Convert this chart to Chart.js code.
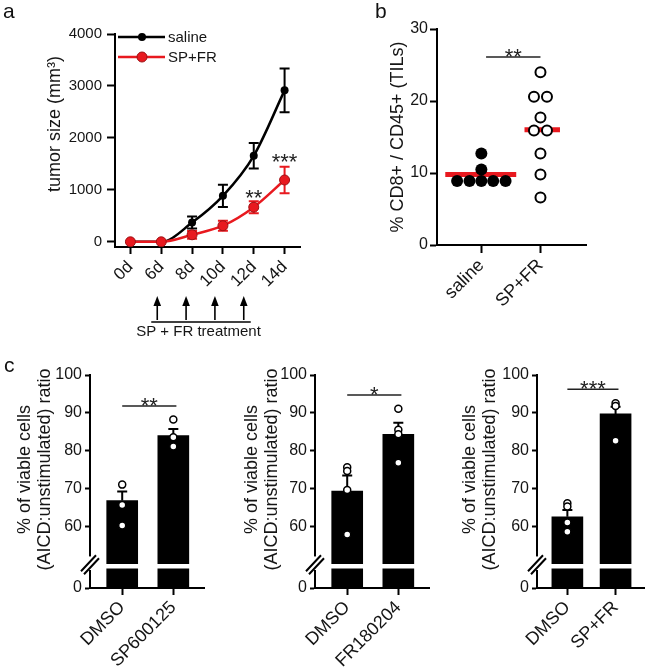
<!DOCTYPE html>
<html>
<head>
<meta charset="utf-8">
<script src="https://cdn.jsdelivr.net/npm/chart.js@4.4.1/dist/chart.umd.min.js"></script>
<style>
  html, body { margin:0; padding:0; background:#fff; }
  #fig { position:relative; width:650px; height:668px; overflow:hidden; background:#fff; }
  #fig canvas { position:absolute; }
</style>
</head>
<body>
<div id="fig">
  <canvas id="chartA" width="310" height="345" style="left:0;top:0"></canvas>
  <canvas id="chartB" width="320" height="330" style="left:330px;top:0"></canvas>
  <canvas id="chartC1" width="215" height="323" style="left:0;top:345px"></canvas>
  <canvas id="chartC2" width="220" height="323" style="left:215px;top:345px"></canvas>
  <canvas id="chartC3" width="215" height="323" style="left:435px;top:345px"></canvas>
</div>
<script>
// ---------------- data ----------------
const days = ['0d', '6d', '8d', '10d', '12d', '14d'];
const salineTumor = [0, 0, 370, 885, 1655, 2915];
const salineTumorSem = [0, 0, 115, 215, 245, 420];
const spfrTumor = [0, 0, 135, 310, 667, 1190];
const spfrTumorSem = [0, 0, 75, 95, 115, 255];
const tumorTicks = [0, 1000, 2000, 3000, 4000];
const treatmentDays = ['6d', '8d', '10d', '12d'];
const tumorSigDays = ['12d', '14d'];
const tumorSigText = ['**', '***'];
const tumorSigY = [950, 1640];

const tilGroups = ['saline', 'SP+FR'];
const tilSaline = [8.9, 8.9, 8.9, 8.9, 8.9, 10.5, 12.7];
const tilSalineSpread = [-0.41, -0.2, 0, 0.2, 0.41, 0, 0];
const tilSpfr = [24.0, 20.6, 20.6, 17.7, 15.9, 15.9, 12.7, 9.8, 6.6];
const tilSpfrSpread = [0, -0.11, 0.11, 0, -0.11, 0.11, 0, 0, 0];
const tilMedian = [9.8, 16.0];
const tilTicks = [0, 10, 20, 30];
const tilSigText = '**';
const tilSigY = 26.1;

const aicdTicks = [60, 70, 80, 90, 100];
const aicdLowTicks = [0];
const aicdTitle = ['% of viable cells', '(AICD:unstimulated) ratio'];

const c1Groups = ['DMSO', 'SP600125'];
const c1Mean = [66.8, 84.0];
const c1Sem = [2.4, 1.7];
const c1DmsoPts = [71.0, 65.6, 60.2];
const c1TreatPts = [88.2, 83.5, 81.1];
const c1Sig = '**';
const c1SigY = 91.8;

const c2Groups = ['DMSO', 'FR180204'];
const c2Mean = [69.3, 84.3];
const c2Sem = [4.1, 3.1];
const c2DmsoPts = [75.6, 74.6, 69.6, 57.8];
const c2TreatPts = [91.1, 85.5, 84.3, 76.8];
const c2Sig = '*';
const c2SigY = 94.7;

const c3Groups = ['DMSO', 'SP+FR'];
const c3Mean = [62.5, 89.7];
const c3Sem = [1.8, 1.9];
const c3DmsoPts = [66.1, 65.2, 61.0, 58.5];
const c3TreatPts = [92.5, 91.8, 82.6];
const c3Sig = '***';
const c3SigY = 96.2;

// ---------------- style ----------------
const FONT = "'Liberation Sans', Arial, Helvetica, sans-serif";
const TXT = '#151515';
const RED = '#e8191f';
const RED_DARK = '#9e1014';
Chart.defaults.font.family = FONT;
Chart.defaults.color = TXT;
Chart.defaults.animation = false;

const axisLine = { display: true, color: '#000', width: 2 };
const plainNum = v => String(v);
function gridTicks(len) {
  return { display: true, drawOnChartArea: false, drawTicks: true, tickLength: len,
           tickWidth: 2, tickColor: '#000', color: '#000', offset: false };
}
function drawStars(ctx, text, x, yc, size) {
  ctx.save();
  ctx.fillStyle = '#222';
  ctx.font = size + 'px ' + FONT;
  ctx.textAlign = 'center';
  ctx.textBaseline = 'alphabetic';
  ctx.fillText(text, x, yc + 0.57 * size);
  ctx.restore();
}
function drawLetter(ctx, t, x, y) {
  ctx.save();
  ctx.fillStyle = '#111';
  ctx.font = '21px ' + FONT;
  ctx.textAlign = 'left';
  ctx.textBaseline = 'alphabetic';
  ctx.fillText(t, x, y);
  ctx.restore();
}

// ---------------- panel a ----------------
const tumorExtras = {
  id: 'tumorExtras',
  beforeDatasetDraw(chart, args) {
    const ds = chart.data.datasets[args.index];
    const y = chart.scales.y;
    const ctx = chart.ctx;
    ctx.save();
    ctx.strokeStyle = ds.borderColor;
    ctx.lineWidth = 2;
    ds.data.forEach((v, i) => {
      const e = ds.sem[i];
      if (!e) return;
      const x = args.meta.data[i].x;
      const yt = y.getPixelForValue(v + e), yb = y.getPixelForValue(v - e);
      ctx.beginPath();
      ctx.moveTo(x, yt); ctx.lineTo(x, yb);
      ctx.moveTo(x - 5, yt); ctx.lineTo(x + 5, yt);
      ctx.moveTo(x - 5, yb); ctx.lineTo(x + 5, yb);
      ctx.stroke();
    });
    ctx.restore();
  },
  afterDraw(chart) {
    const ctx = chart.ctx, xs = chart.scales.x, ys = chart.scales.y, area = chart.chartArea;
    // legend
    const rows = [chart.data.datasets[0], chart.data.datasets[1]];
    rows.forEach((ds, k) => {
      const yy = area.top + 3 + k * 20;
      const x0 = area.left + 3, x1 = area.left + 50, xm = area.left + 27;
      ctx.save();
      ctx.strokeStyle = ds.borderColor; ctx.lineWidth = 2.5;
      ctx.beginPath(); ctx.moveTo(x0, yy); ctx.lineTo(x1, yy); ctx.stroke();
      ctx.beginPath(); ctx.arc(xm, yy, ds.pointRadius, 0, Math.PI * 2);
      ctx.fillStyle = ds.pointBackgroundColor; ctx.fill();
      if (ds.pointBorderWidth) { ctx.lineWidth = ds.pointBorderWidth; ctx.strokeStyle = ds.pointBorderColor; ctx.stroke(); }
      ctx.fillStyle = TXT; ctx.font = '15px ' + FONT; ctx.textAlign = 'left'; ctx.textBaseline = 'middle';
      ctx.fillText(ds.label, x1 + 3, yy + 1);
      ctx.restore();
    });
    // significance stars
    tumorSigDays.forEach((d, i) => {
      drawStars(ctx, tumorSigText[i], xs.getPixelForValue(d), ys.getPixelForValue(tumorSigY[i]), 22);
    });
    // treatment arrows (drawn slightly left of each treatment day tick)
    const arrowX = treatmentDays.map((d, i) => xs.getPixelForValue(d) - 4 - i * 2);
    ctx.save();
    ctx.strokeStyle = '#000'; ctx.fillStyle = '#000'; ctx.lineWidth = 1.6;
    arrowX.forEach(ax => {
      ctx.beginPath(); ctx.moveTo(ax, 320); ctx.lineTo(ax, 303); ctx.stroke();
      ctx.beginPath(); ctx.moveTo(ax, 296); ctx.lineTo(ax - 3.8, 306); ctx.lineTo(ax + 3.8, 306); ctx.closePath(); ctx.fill();
    });
    ctx.lineWidth = 1.5;
    ctx.beginPath(); ctx.moveTo(arrowX[0] - 6, 322); ctx.lineTo(arrowX[arrowX.length - 1] + 7, 322); ctx.stroke();
    ctx.fillStyle = TXT; ctx.font = '15px ' + FONT; ctx.textAlign = 'center'; ctx.textBaseline = 'middle';
    ctx.fillText('SP + FR treatment', (arrowX[0] + arrowX[arrowX.length - 1]) / 2 - 2, 332);
    ctx.restore();
    // y-axis title
    ctx.save();
    ctx.translate(55, 124); ctx.rotate(-Math.PI / 2);
    ctx.fillStyle = TXT; ctx.font = '18px ' + FONT; ctx.textAlign = 'center'; ctx.textBaseline = 'middle';
    ctx.fillText('tumor size (mm³)', 0, 0);
    ctx.restore();
    drawLetter(ctx, 'a', 3, 18);
  }
};

new Chart(document.getElementById('chartA'), {
  type: 'line',
  data: {
    labels: days,
    datasets: [
      { label: 'saline', data: salineTumor, sem: salineTumorSem, borderColor: '#000', backgroundColor: '#000',
        pointBackgroundColor: '#000', pointBorderColor: '#000', pointRadius: 4, pointBorderWidth: 0,
        borderWidth: 2.5, cubicInterpolationMode: 'monotone', order: 1 },
      { label: 'SP+FR', data: spfrTumor, sem: spfrTumorSem, borderColor: RED, backgroundColor: RED,
        pointBackgroundColor: RED, pointBorderColor: RED_DARK, pointRadius: 5, pointBorderWidth: 1,
        borderWidth: 2.5, cubicInterpolationMode: 'monotone', order: 0 }
    ]
  },
  options: {
    responsive: false, animation: false, events: [],
    layout: { padding: { top: 34, right: 10, left: 0, bottom: 0 } },
    plugins: { legend: { display: false }, tooltip: { enabled: false } },
    scales: {
      x: { type: 'category', offset: true, grid: gridTicks(7), border: axisLine,
           ticks: { font: { size: 17 }, color: TXT, minRotation: 45, maxRotation: 45, padding: 3, autoSkip: false },
           afterFit: s => { s.height = 98; } },
      y: { min: -100, max: 4000, grid: gridTicks(8), border: axisLine,
           afterBuildTicks: s => { s.ticks = tumorTicks.map(v => ({ value: v })); },
           ticks: { font: { size: 15 }, color: TXT, padding: 5, callback: plainNum },
           afterFit: s => { s.width = 115; } }
    }
  },
  plugins: [tumorExtras]
});

// ---------------- panel b ----------------
const medianSpan = [[-0.61, 0.59], [-0.27, 0.33]];
const tilExtras = {
  id: 'tilExtras',
  afterDraw(chart) {
    const ctx = chart.ctx, xs = chart.scales.x, ys = chart.scales.y;
    drawStars(ctx, tilSigText, (xs.getPixelForValue(1.08) + xs.getPixelForValue(2)) / 2, ys.getPixelForValue(tilSigY) - 5.5, 22);
    drawLetter(ctx, 'b', 45, 18);
  }
};
new Chart(document.getElementById('chartB'), {
  type: 'scatter',
  data: {
    datasets: [
      { label: 'saline', data: tilSaline.map((v, i) => ({ x: 1 + tilSalineSpread[i], y: v })),
        pointRadius: 6, pointBackgroundColor: '#000', pointBorderColor: '#000', pointBorderWidth: 0, order: 0 },
      { label: 'SP+FR', data: tilSpfr.map((v, i) => ({ x: 2 + tilSpfrSpread[i], y: v })),
        pointRadius: 5, pointBackgroundColor: '#fff', pointBorderColor: '#000', pointBorderWidth: 2, order: 0 },
      { type: 'line', label: 'median saline',
        data: medianSpan[0].map(d => ({ x: 1 + d, y: tilMedian[0] })),
        borderColor: RED, borderWidth: 5, pointRadius: 0, order: 2 },
      { type: 'line', label: 'median SP+FR',
        data: medianSpan[1].map(d => ({ x: 2 + d, y: tilMedian[1] })),
        borderColor: RED, borderWidth: 5, pointRadius: 0, order: 2 },
      { type: 'line', label: 'significance',
        data: [{ x: 1.08, y: tilSigY }, { x: 2, y: tilSigY }],
        borderColor: '#222', borderWidth: 1.5, pointRadius: 0, order: 1 }
    ]
  },
  options: {
    responsive: false, animation: false, events: [],
    layout: { padding: { top: 29, right: 64, left: 0, bottom: 0 } },
    plugins: { legend: { display: false }, tooltip: { enabled: false } },
    scales: {
      x: { type: 'linear', min: 0.25, max: 2.77, offset: false, grid: gridTicks(8), border: axisLine,
           afterBuildTicks: s => { s.ticks = [1, 2].map(v => ({ value: v })); },
           ticks: { callback: v => tilGroups[v - 1], font: { size: 18 }, color: TXT,
                    minRotation: 45, maxRotation: 45, padding: 2, autoSkip: false },
           afterFit: s => { s.height = 85; } },
      y: { min: 0, max: 30, grid: gridTicks(7), border: axisLine,
           afterBuildTicks: s => { s.ticks = tilTicks.map(v => ({ value: v })); },
           ticks: { font: { size: 16 }, color: TXT, padding: 2, callback: plainNum },
           title: { display: true, text: '% CD8+ / CD45+ (TILs)', font: { size: 18 }, color: TXT,
                    padding: { top: 57, bottom: 0 } },
           afterFit: s => { s.width = 107; } }
    }
  },
  plugins: [tilExtras]
});

// ---------------- panel c ----------------
const LOW_MAX = 10, LOW_STUB = 8;
function aicdPanel(id, groups, mean, sem, ptsA, ptsB, sig, sigY, yWidth, titlePad, rightPad, letter) {
  const extras = {
    id: 'aicdExtras',
    afterDatasetDraw(chart, args) {
      if (args.index !== 0) return;
      const ctx = chart.ctx, ys = chart.scales.y;
      ctx.save(); ctx.strokeStyle = '#000'; ctx.lineWidth = 2;
      args.meta.data.forEach((bar, i) => {
        const yt = ys.getPixelForValue(mean[i] + sem[i]);
        ctx.beginPath();
        ctx.moveTo(bar.x, bar.y); ctx.lineTo(bar.x, yt);
        ctx.moveTo(bar.x - 5, yt); ctx.lineTo(bar.x + 5, yt);
        ctx.stroke();
      });
      ctx.restore();
    },
    afterDraw(chart) {
      const ctx = chart.ctx, xs = chart.scales.x, ys = chart.scales.y, yl = chart.scales.yLow;
      const ax = chart.chartArea.left;
      // axis break
      const gTop = ys.getPixelForValue(52), gBot = yl.getPixelForValue(7.5);
      ctx.save();
      ctx.fillStyle = '#fff';
      ctx.fillRect(ax - 3, gTop, 6, gBot - gTop);
      const yM = (gTop + gBot) / 2 + 1;
      ctx.strokeStyle = '#000'; ctx.lineWidth = 2;
      ctx.beginPath();
      ctx.moveTo(ax - 9, yM + 7); ctx.lineTo(ax + 6, yM - 9);
      ctx.moveTo(ax - 6, yM + 10); ctx.lineTo(ax + 9, yM - 6);
      ctx.stroke();
      ctx.restore();
      drawStars(ctx, sig, (xs.getPixelForValue(1) + xs.getPixelForValue(2.06)) / 2, ys.getPixelForValue(sigY) - 6, 22);
      if (letter) drawLetter(ctx, letter, 4, 27);
    }
  };
  const xsPos = [1, 2];
  return new Chart(document.getElementById(id), {
    type: 'bar',
    data: {
      datasets: [
        { type: 'bar', label: 'mean', data: xsPos.map((x, i) => ({ x, y: mean[i] })), yAxisID: 'y',
          backgroundColor: '#000', barThickness: 31, grouped: false, order: 3 },
        { type: 'bar', label: 'below break', data: xsPos.map(x => ({ x, y: [0, LOW_STUB] })), yAxisID: 'yLow',
          backgroundColor: '#000', barThickness: 31, grouped: false, order: 3 },
        { type: 'scatter', label: 'replicates',
          data: ptsA.map(v => ({ x: 1, y: v })).concat(ptsB.map(v => ({ x: 2, y: v }))), yAxisID: 'y',
          pointRadius: 3.5, pointBackgroundColor: '#fff', pointBorderColor: '#000', pointBorderWidth: 1.5, order: 1 },
        { type: 'line', label: 'significance', data: [{ x: 1, y: sigY }, { x: 2.06, y: sigY }], yAxisID: 'y',
          borderColor: '#222', borderWidth: 1.5, pointRadius: 0, order: 1 }
      ]
    },
    options: {
      responsive: false, animation: false, events: [],
      layout: { padding: { top: 30, right: rightPad, left: 0, bottom: 0 } },
      plugins: { legend: { display: false }, tooltip: { enabled: false } },
      scales: {
        x: { type: 'linear', min: 0.37, max: 2.6, offset: false, grid: gridTicks(7), border: axisLine,
             afterBuildTicks: s => { s.ticks = xsPos.map(v => ({ value: v })); },
             ticks: { callback: v => groups[v - 1], font: { size: 18 }, color: TXT,
                      minRotation: 45, maxRotation: 45, padding: 2, autoSkip: false },
             afterFit: s => { s.height = 80; } },
        y: { type: 'linear', position: 'left', stack: 'aicd', stackWeight: 189, weight: 2,
             min: 50, max: 100, grid: gridTicks(5), border: axisLine,
             afterBuildTicks: s => { s.ticks = aicdTicks.map(v => ({ value: v })); },
             ticks: { font: { size: 16 }, color: TXT, padding: 3, callback: plainNum },
             title: { display: true, text: aicdTitle, font: { size: 18, lineHeight: 1.1 }, color: TXT,
                      padding: { top: titlePad, bottom: 0 } },
             afterFit: s => { s.width = yWidth; } },
        yLow: { type: 'linear', position: 'left', stack: 'aicd', stackWeight: 24, weight: 1,
             min: 0, max: LOW_MAX, grid: gridTicks(5), border: axisLine,
             afterBuildTicks: s => { s.ticks = aicdLowTicks.map(v => ({ value: v })); },
             ticks: { font: { size: 16 }, color: TXT, padding: 3, callback: plainNum },
             afterFit: s => { s.width = yWidth; } }
      }
    },
    plugins: [extras]
  });
}

aicdPanel('chartC1', c1Groups, c1Mean, c1Sem, c1DmsoPts, c1TreatPts, c1Sig, c1SigY, 90, 15, 11, 'c');
aicdPanel('chartC2', c2Groups, c2Mean, c2Sem, c2DmsoPts, c2TreatPts, c2Sig, c2SigY, 100, 27, 6, null);
aicdPanel('chartC3', c3Groups, c3Mean, c3Sem, c3DmsoPts, c3TreatPts, c3Sig, c3SigY, 102, 25, 0, null);
</script>
</body>
</html>
